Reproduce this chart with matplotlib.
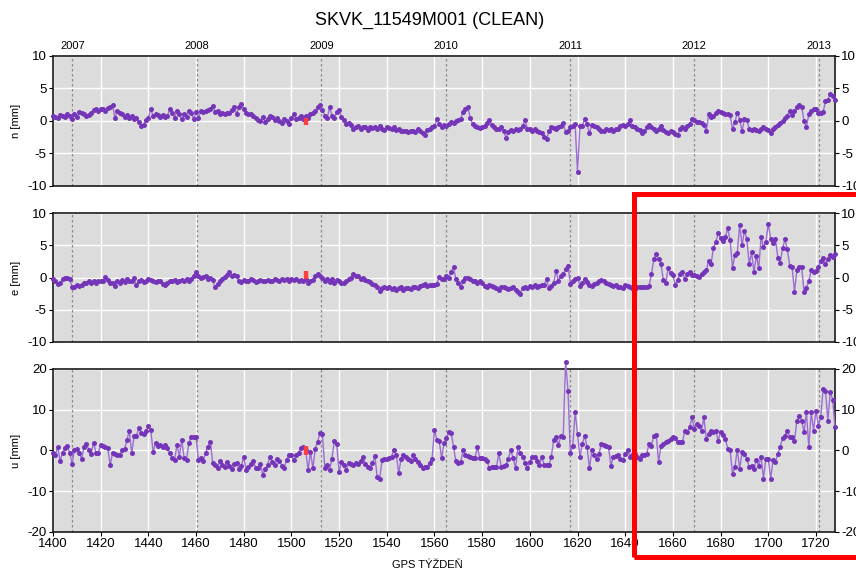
import numpy as np
import matplotlib
matplotlib.use('Agg')
import matplotlib.pyplot as plt
from matplotlib.patches import Rectangle

plt.rcParams['font.family'] = ['Liberation Sans', 'DejaVu Sans']
plt.rcParams['axes.unicode_minus'] = False

# weekly solutions, GPS weeks 1400..1728
gps_week = np.arange(1400, 1729)

n_mm = [
    0.8, 0.6, 0.5, 0.9, 0.8, 0.6, 1.0, 0.7, 0.3, 1.0, 0.6, 1.4, 1.3, 1.0, 0.8, 0.9, 1.3, 1.7, 1.8, 1.6,
    1.9, 1.8, 1.6, 2.0, 2.1, 2.5, 0.4, 1.6, 1.3, 1.0, 0.6, 0.9, 0.4, 0.7, 0.3, 0.5, -0.2, -0.8, -0.6, 0.2,
    0.5, 1.9, 0.7, 1.0, 0.9, 0.6, 0.9, 0.6, 0.8, 1.8, 1.2, 0.5, 1.6, 1.0, 0.3, 1.0, 0.6, 1.6, 1.2, 0.3,
    1.4, 0.5, 1.5, 1.4, 1.6, 1.7, 1.9, 2.3, 1.4, 1.6, 1.0, 1.2, 1.1, 1.3, 1.3, 1.7, 2.1, 1.1, 2.2, 2.6,
    1.9, 1.2, 1.1, 1.1, 0.8, 0.5, 0.2, 0.0, 0.6, -0.1, 0.3, 0.8, 0.6, 0.2, 0.4, 0.0, -0.3, 0.3, 0.0, -0.4,
    0.5, 1.0, 0.3, 0.5, 0.8, 0.3, 0.7, 0.5, 1.0, 1.3, 1.6, 2.1, 2.4, 1.7, 0.8, 0.4, 2.1, 0.8, 0.5, 1.4,
    1.7, 0.6, 0.1, -0.4, -0.3, -0.6, -1.3, -0.9, -0.7, -1.2, -0.9, -1.0, -1.4, -1.0, -1.1, -0.9, -1.3, -0.8, -1.2, -1.4,
    -1.0, -1.1, -1.2, -1.0, -1.4, -1.3, -1.5, -1.6, -1.5, -1.7, -1.6, -1.5, -1.7, -1.3, -1.5, -1.8, -2.1, -1.4, -1.2, -1.0,
    -0.8, 0.3, -0.5, -0.9, -0.6, -0.7, -0.4, -0.2, -0.3, 0.0, 0.1, 0.3, 1.4, 1.9, 2.1, 0.5, -0.5, -0.8, -1.0, -1.1,
    -0.9, -0.8, -0.3, 0.2, -0.6, -1.0, -1.3, -1.2, -1.0, -1.5, -2.6, -1.7, -1.4, -1.5, -1.3, -1.4, -1.2, -0.8, 0.2, -1.3,
    -1.2, -1.5, -1.3, -1.5, -1.7, -1.8, -2.4, -2.8, -1.6, -1.0, -1.1, -1.3, -1.0, -0.8, -0.3, -1.7, -1.5, -1.0, -0.7, -0.5,
    -7.9, -0.8, -0.7, 0.3, -0.5, -1.9, -0.6, -0.8, -1.0, -1.2, -1.6, -1.5, -1.3, -1.4, -1.2, -1.5, -1.3, -1.2, -0.8, -0.6,
    -0.7, -0.4, 0.1, -0.8, -1.0, -1.3, -1.4, -1.9, -1.6, -1.0, -0.6, -0.9, -1.3, -1.5, -1.2, -0.7, -1.4, -1.7, -1.9, -1.5,
    -1.7, -2.0, -2.2, -1.2, -1.0, -1.3, -0.8, -0.5, 0.3, 0.2, -0.1, -0.2, -0.3, -0.6, -1.6, 1.0, 0.6, 0.8, 1.2, 1.5,
    1.4, 1.2, 1.1, 1.0, 0.9, -1.3, -0.2, 1.3, 0.2, -1.6, 0.3, 0.2, -1.2, -1.4, -1.3, -1.4, -1.5, -1.2, -1.0, -1.2,
    -1.4, -1.8, -1.3, -1.0, -0.6, -0.3, 0.0, 0.5, 0.8, 1.5, 0.9, 1.6, 2.1, 2.5, 2.2, 0.0, -0.9, 1.0, 1.5, 1.9,
    1.8, 1.3, 1.3, 1.4, 3.0, 3.3, 4.1, 3.8, 3.3,
]

e_mm = [
    -0.3, -0.6, -1.0, -0.8, -0.3, 0.0, 0.0, -0.3, -1.4, -1.5, -1.1, -1.3, -1.2, -0.8, -0.9, -0.6, -0.9, -0.6, -0.8, -0.6,
    -0.6, -0.5, 0.1, -0.4, -0.8, -0.9, -1.3, -0.5, -0.8, -0.4, -0.7, -0.2, -0.5, -0.6, -0.1, -1.2, -0.6, -0.4, -0.7, -0.6,
    -0.2, -0.4, -0.6, -0.7, -0.5, -0.6, -1.0, -1.2, -0.8, -0.5, -0.5, -0.4, -0.7, -0.5, -0.4, -0.6, -0.3, -0.5, -0.2, 0.3,
    0.8, 0.3, 0.0, 0.1, 0.2, -0.2, 0.0, -0.4, -1.5, -1.0, -0.5, -0.2, 0.1, 0.4, 0.9, 0.3, 0.4, 0.2, -0.6, -0.7,
    -0.4, -0.5, -0.6, -0.3, -0.4, -0.7, -0.5, -0.4, -0.6, -0.5, -0.4, -0.6, -0.5, -0.3, -0.4, -0.5, -0.2, -0.4, -0.3, -0.5,
    -0.3, -0.4, -0.2, -0.5, -0.4, -0.6, -0.3, -0.8, -0.6, -0.4, 0.3, 0.5, 0.3, 0.0, -0.5, -0.3, -0.7, -0.2, -0.8, -0.4,
    -0.6, -0.8, -0.9, -0.6, -0.2, 0.0, 0.5, 0.2, 0.3, -0.3, -0.1, -0.4, -0.6, -0.7, -1.0, -1.2, -1.4, -2.1, -1.6, -1.5,
    -1.7, -1.5, -1.8, -1.6, -1.9, -1.7, -1.5, -1.9, -1.7, -1.6, -1.8, -1.5, -1.4, -1.6, -1.3, -1.2, -1.0, -1.3, -1.1, -1.2,
    -1.2, -1.0, 0.1, -0.2, -0.3, 0.2, 0.0, 0.9, 1.6, -0.3, -0.9, -1.4, -0.6, -0.1, 0.0, -0.3, -0.6, -0.5, -0.8, -0.6,
    -0.9, -1.3, -1.5, -1.1, -1.3, -1.4, -1.6, -1.9, -1.5, -1.4, -1.6, -1.8, -1.6, -1.5, -2.0, -2.3, -2.5, -1.6, -1.5, -1.6,
    -1.3, -1.4, -1.2, -1.4, -1.3, -1.2, -1.2, -0.3, -1.7, -1.3, -0.8, 1.0, -0.5, 0.2, 0.5, 1.3, 1.8, -1.0, -0.6, -0.2,
    0.0, -1.3, -0.8, -0.3, -0.7, -1.2, -1.3, -1.0, -0.8, -0.6, -0.4, -0.5, -0.8, -1.0, -1.1, -1.3, -1.2, -1.4, -1.5, -1.6,
    -1.1, -1.3, -1.4, -1.6, -1.8, -1.5, -1.4, -1.5, -1.4, -1.4, -1.3, 0.5, 2.9, 3.6, 2.8, 2.1, -0.4, -0.9, 1.4, 0.7,
    0.4, -1.2, -0.4, 0.6, 0.8, -0.3, 0.6, 0.8, 0.4, 0.4, 0.3, 0.1, 0.6, 0.9, 1.1, 2.6, 2.1, 4.6, 5.5, 6.9,
    6.1, 5.7, 6.3, 7.6, 5.8, 1.5, 3.5, 3.8, 8.2, 5.0, 7.2, 6.0, 2.1, 3.9, 0.8, 3.4, 1.4, 6.3, 4.7, 5.5,
    8.3, 6.0, 5.4, 6.0, 3.1, 2.3, 4.5, 5.9, 4.4, 1.8, 1.6, -2.2, 1.1, 1.7, 1.6, -2.2, -1.6, -0.6, 1.1, 0.8,
    1.0, 1.6, 2.6, 3.0, 2.1, 2.9, 3.5, 3.2, 3.6,
]

u_mm = [
    -0.7, -1.1, 0.9, -2.7, -0.5, 0.5, 1.0, -0.5, -3.2, 0.0, 0.3, -0.5, -2.0, 0.8, 1.6, 0.2, -0.8, 1.9, -0.5, -0.5,
    1.3, 1.1, 0.8, 0.5, -3.6, -0.5, -0.8, -1.2, -1.0, 0.0, 0.3, 2.5, 4.9, -0.7, 3.5, 3.6, 5.5, 4.2, 4.0, 4.8,
    5.9, 5.0, -0.3, 1.8, 1.0, 1.4, 0.8, 1.4, 0.5, -0.5, -1.9, -2.3, 1.4, -1.5, 2.6, -1.9, -2.3, 1.8, 3.4, 3.4,
    3.2, -2.3, -1.8, -2.7, -0.5, 0.9, 2.2, -3.1, -3.6, -4.4, -2.5, -3.5, -4.0, -2.8, -3.8, -4.5, -3.2, -3.0, -4.6, -3.8,
    -1.6, -4.8, -4.0, -3.4, -2.5, -4.3, -4.2, -3.2, -6.0, -4.6, -3.5, -1.5, -2.8, -3.5, -2.0, -2.5, -3.8, -4.2, -2.3, -1.0,
    -1.2, -2.4, -1.0, -0.5, 0.6, 0.8, 0.0, -4.8, -0.3, -4.4, 0.4, 2.2, 4.3, 4.0, -4.2, -3.5, -4.8, -2.0, 2.3, 1.5,
    -5.2, -2.8, -3.5, -4.8, -3.0, -3.2, -3.5, -3.0, -3.3, -2.6, -1.7, -3.2, -4.0, -4.3, -3.0, -1.4, -6.6, -7.0, -2.4, -2.0,
    -2.0, -1.9, -1.5, 0.0, -1.0, -5.6, -2.0, -1.2, -1.5, -2.0, -2.5, -1.2, -2.0, -2.8, -3.5, -4.3, -4.0, -4.0, -3.0, -2.0,
    5.0, 2.6, 2.3, -1.9, 1.8, 3.0, 4.6, 4.4, 0.9, -2.7, -3.1, -2.9, 0.1, -1.1, -1.3, -1.5, -1.8, -1.9, 0.9, -1.9,
    -1.9, -2.0, -2.5, -4.4, -4.0, -4.1, -4.0, -0.7, -4.0, -3.8, -3.6, -2.0, 0.1, -1.9, -4.4, 0.9, -0.5, -1.5, -3.1, -4.4,
    -2.8, -1.5, -1.5, -2.5, -3.6, -1.5, -3.6, -3.5, -3.6, -1.5, 2.6, 3.2, 1.4, 3.6, 3.4, 21.8, 14.7, -0.7, 1.2, 9.4,
    4.1, -1.6, 1.6, 3.6, 0.8, -4.4, 0.0, -1.0, -2.0, -0.8, 1.6, 1.4, 1.2, 0.8, -3.7, -1.6, -1.4, -1.2, -2.0, -2.4,
    -0.8, 0.0, -1.6, -1.2, -0.8, -1.5, -2.0, -1.2, -1.0, -0.8, 1.6, 1.2, 3.6, 3.9, -2.9, 1.2, 1.6, 2.0, 2.3, 2.9,
    3.3, 3.0, 2.0, 2.1, 2.0, 4.9, 4.5, 5.7, 8.1, 5.3, 6.5, 5.9, 4.9, 8.1, 2.9, 4.1, 4.9, 4.6, 4.9, 2.4,
    4.5, 3.7, 2.9, 0.4, 0.2, -5.7, -4.1, 0.2, -4.5, -0.4, -0.8, -2.0, -4.1, -3.7, -4.5, -2.4, -3.7, -1.5, -6.9, -2.0,
    -2.0, -6.9, -2.4, -2.9, -0.8, 0.8, 3.1, 3.6, 4.9, 3.4, 3.3, 2.4, 7.3, 8.5, 7.3, 4.5, 9.4, 0.8, 9.4, 4.9,
    9.8, 6.1, 8.1, 15.0, 14.6, 7.3, 14.4, 12.5, 5.7,
]

years = [2007, 2008, 2009, 2010, 2011, 2012, 2013]

# equipment change marker
change_week = 1506
change_span = {'n': (-0.6, 0.5), 'e': (-0.3, 1.0), 'u': (-1.1, 1.1)}


def gps_week_of(year):
    days = (np.datetime64(f'{year}-01-01') - np.datetime64('1980-01-06')).astype(int)
    return days / 7.0


fig = plt.figure(figsize=(8.56, 5.74), dpi=100)

panels = [
    ('n', n_mm, 10, 5, [0.0619, 0.676, 0.9136, 0.2265]),
    ('e', e_mm, 10, 5, [0.0619, 0.4042, 0.9136, 0.2247]),
    ('u', u_mm, 20, 10, [0.0619, 0.0732, 0.9136, 0.2840]),
]

for i, (name, vals, lim, step, rect) in enumerate(panels):
    ax = fig.add_axes(rect)
    ax.set_facecolor('#dcdcdc')
    ax.set_axisbelow(True)
    ax.grid(True, color='white', lw=1.0)
    ax.set_xlim(1400, 1728)
    ax.set_ylim(-lim, lim)
    ax.set_xticks(np.arange(1400, 1721, 20))
    ax.set_yticks(np.arange(-lim, lim + 1, step))

    for yr in years:
        ax.axvline(gps_week_of(yr), color='#8a8a8a', ls=(0, (2, 2)), lw=0.9, zorder=1)

    # outliers (u spike) are drawn past the frame, not clipped
    ax.plot(gps_week, vals, color='#9c6cd4', lw=1.0, zorder=3, clip_on=False)
    ax.plot(gps_week, vals, 'o', ms=3.6, color='#7435b8', mec='none', zorder=4, clip_on=False)
    ax.plot([change_week, change_week], change_span[name], color='#ff4040', lw=3.2,
            solid_capstyle='butt', zorder=5)

    ax.tick_params(axis='y', left=True, right=True, labelright=True, direction='out',
                   length=3, labelsize=9.5, pad=1.5)
    ax.tick_params(axis='x', direction='out', length=3, labelsize=9.5, pad=1.5)
    for sp in ax.spines.values():
        sp.set_color('#1a1a1a')
        sp.set_linewidth(1.2)

    ax.set_ylabel(f'{name} [mm]', fontsize=8)
    ax.yaxis.set_label_coords(-0.041, 0.5)

    if i < 2:
        ax.tick_params(axis='x', bottom=False, labelbottom=False)
    if i == 0:
        for yr in years:
            ax.text(gps_week_of(yr), 1.04, str(yr), transform=ax.get_xaxis_transform(),
                    ha='center', va='bottom', fontsize=8)

fig.text(0.502, 0.965, 'SKVK_11549M001 (CLEAN)', ha='center', va='center', fontsize=13)
fig.text(0.499, 0.016, 'GPS TÝŽDEŇ', ha='center', va='center', fontsize=8)

# highlight box around the late part of the e/u series
fig.patches.append(Rectangle((0.7407, 0.0296), 0.30, 0.6324, transform=fig.transFigure,
                             fill=False, ec='#ff0000', lw=3.6, clip_on=False))

fig.savefig('out.png', dpi=100)
